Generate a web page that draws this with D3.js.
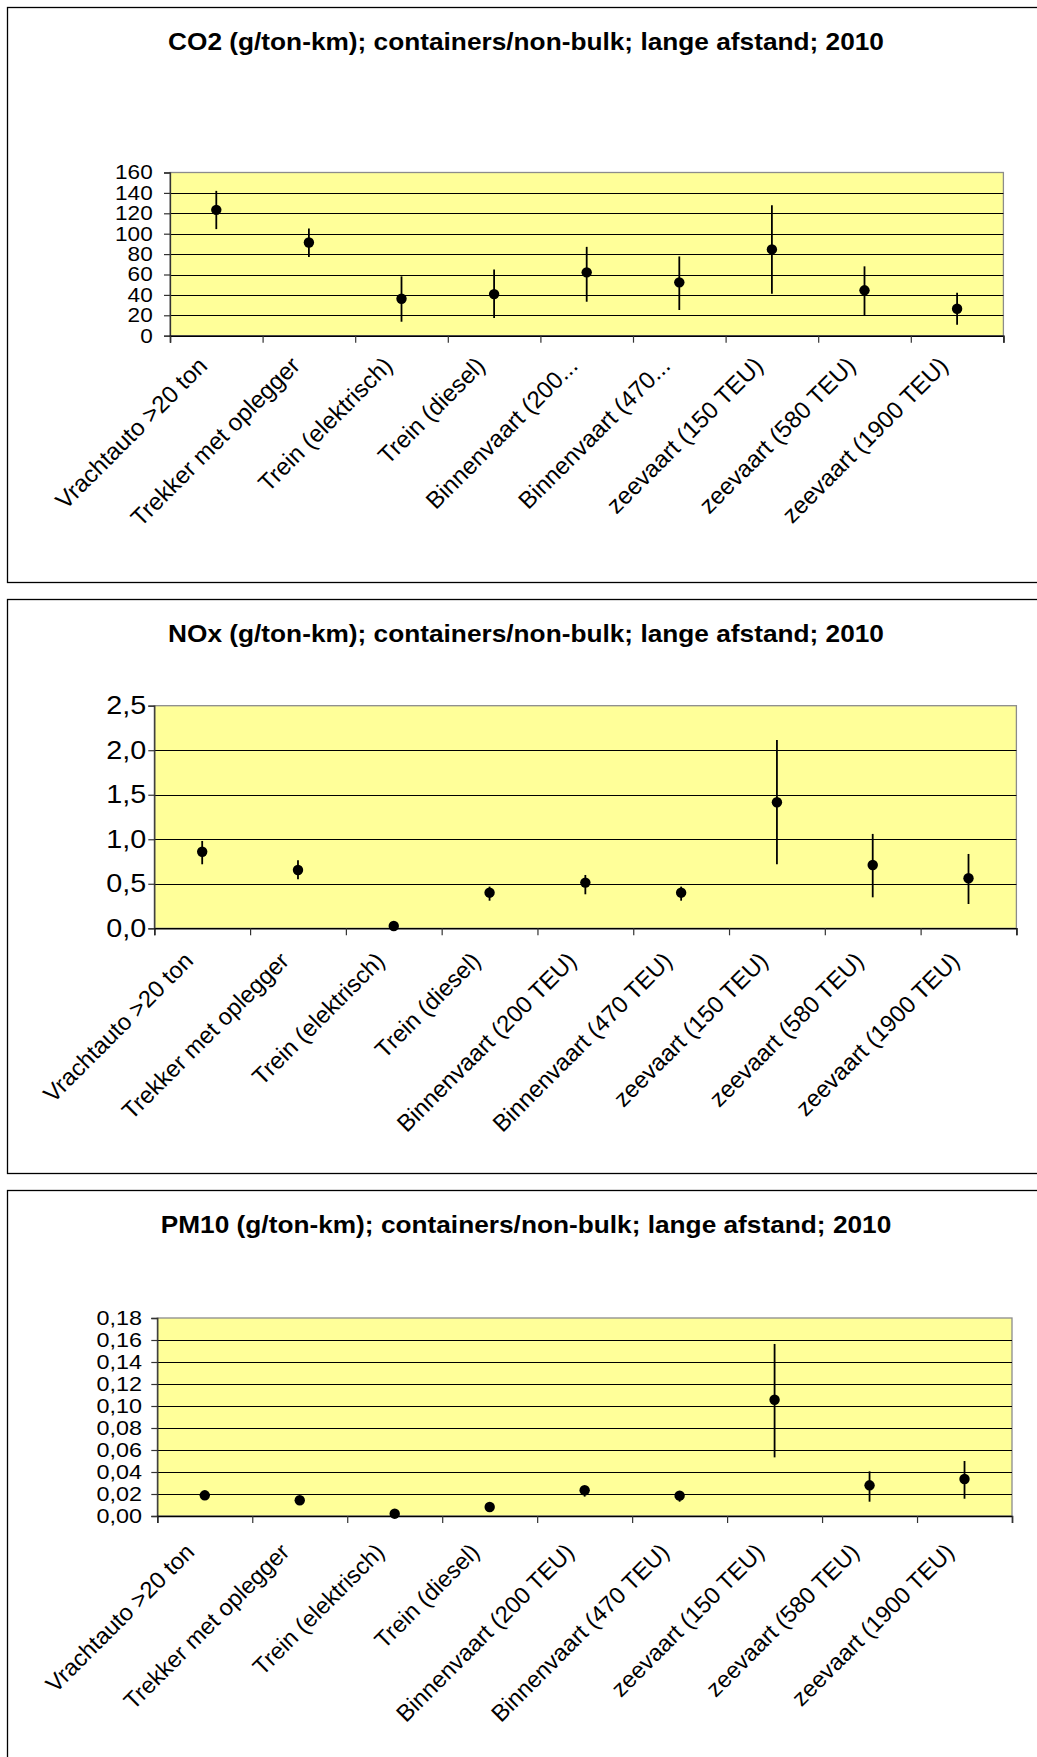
<!DOCTYPE html>
<html>
<head>
<meta charset="utf-8">
<script src="https://cdn.jsdelivr.net/npm/d3@7"></script>
<style>
  html, body { margin: 0; padding: 0; background: #ffffff; }
  svg { display: block; }
  text { font-family: "Liberation Sans", Arial, sans-serif; fill: #000; }
</style>
</head>
<body>
<div id="chart"></div>
<script>
// ---------- DATA ----------
const categoriesShort = ["Vrachtauto >20 ton", "Trekker met oplegger", "Trein (elektrisch)", "Trein (diesel)",
  "Binnenvaart (200...", "Binnenvaart (470...", "zeevaart (150 TEU)", "zeevaart (580 TEU)", "zeevaart (1900 TEU)"];
const categories = ["Vrachtauto >20 ton", "Trekker met oplegger", "Trein (elektrisch)", "Trein (diesel)",
  "Binnenvaart (200 TEU)", "Binnenvaart (470 TEU)", "zeevaart (150 TEU)", "zeevaart (580 TEU)", "zeevaart (1900 TEU)"];

const co2Values = [123.4, 91.4, 36.2, 40.8, 62.1, 52.3, 84.6, 44.5, 26.4];
const co2Low    = [104.5, 77.1, 13.7, 17.3, 33.3, 25.2, 41.1, 20.3, 10.8];
const co2High   = [142.0, 105.2, 58.2, 65.0, 87.1, 77.7, 128.0, 68.0, 42.1];
const co2Ticks  = [0, 20, 40, 60, 80, 100, 120, 140, 160];

const noxValues = [0.86, 0.655, 0.026, 0.40, 0.513, 0.40, 1.416, 0.711, 0.562];
const noxLow    = [0.719, 0.551, 0.02, 0.31, 0.382, 0.31, 0.719, 0.348, 0.273];
const noxHigh   = [0.981, 0.764, 0.032, 0.468, 0.599, 0.468, 2.116, 1.06, 0.835];
const noxTicks  = [0, 0.5, 1.0, 1.5, 2.0, 2.5];

const pm10Values = [0.0188, 0.0143, 0.0021, 0.0082, 0.0234, 0.0185, 0.1057, 0.0279, 0.0336];
const pm10Low    = [0.017, 0.013, 0.0015, 0.007, 0.0176, 0.013, 0.0533, 0.013, 0.0157];
const pm10High   = [0.021, 0.016, 0.0027, 0.0095, 0.027, 0.021, 0.1564, 0.0406, 0.050];
const pm10Ticks  = [0, 0.02, 0.04, 0.06, 0.08, 0.10, 0.12, 0.14, 0.16, 0.18];

const titles = [
  "CO2 (g/ton-km); containers/non-bulk; lange afstand; 2010",
  "NOx (g/ton-km); containers/non-bulk; lange afstand; 2010",
  "PM10 (g/ton-km); containers/non-bulk; lange afstand; 2010"
];

// ---------- RENDER ----------
const W = 1037, H = 1757;
const nl = d3.formatLocale({decimal: ",", thousands: ".", grouping: [3], currency: ["€", ""]});

const svg = d3.select("#chart").append("svg").attr("width", W).attr("height", H);

const charts = [
  {title: titles[0], cats: categoriesShort, vals: co2Values, lo: co2Low, hi: co2High, ticks: co2Ticks,
   fmt: nl.format("d"), box: [7, 7, 1038, 575], plot: [170, 1003.4, 172.5, 335.7],
   tickFont: 20, tickSx: 1.13, tickPad: 9.3, labelFont: 24, labelDx: -7.6, labelDy: 31.5},
  {title: titles[1], cats: categories, vals: noxValues, lo: noxLow, hi: noxHigh, ticks: noxTicks,
   fmt: nl.format(".1f"), box: [7, 599, 1038, 574], plot: [154.3, 1016.4, 705.7, 928.3],
   tickFont: 25, tickSx: 1.15, tickPad: 1, labelFont: 23.7, labelDx: -7.6, labelDy: 34},
  {title: titles[2], cats: categories, vals: pm10Values, lo: pm10Low, hi: pm10High, ticks: pm10Ticks,
   fmt: nl.format(".2f"), box: [7, 1190, 1038, 600], plot: [157.3, 1012, 1318, 1516],
   tickFont: 20, tickSx: 1.17, tickPad: 7, labelFont: 23.5, labelDx: -9, labelDy: 37.5}
];

charts.forEach(cfg => {
  const [bx, by, bw, bh] = cfg.box;
  const [pl, pr, pt, pb] = cfg.plot;
  const g = svg.append("g");

  g.append("rect").attr("x", bx + 0.5).attr("y", by + 0.5).attr("width", bw).attr("height", bh)
    .attr("fill", "#fff").attr("stroke", "#000").attr("stroke-width", 1.3);

  g.append("g").attr("transform", `translate(526,${by + 43}) scale(1.117,1)`)
    .append("text").attr("text-anchor", "middle")
    .attr("font-size", 23.5).attr("font-weight", "bold").text(cfg.title);

  const y = d3.scaleLinear().domain([0, d3.max(cfg.ticks)]).range([pb, pt]);
  const x = d3.scaleBand().domain(cfg.cats).range([pl, pr]).padding(0);
  const xi = d3.scaleLinear().domain([0, cfg.cats.length]).range([pl, pr]);

  // plot area
  g.append("rect").attr("x", pl).attr("y", pt).attr("width", pr - pl).attr("height", pb - pt)
    .attr("fill", "#FFFF99").attr("stroke", "#8c8c8c").attr("stroke-width", 1.3);

  // gridlines
  g.append("g").selectAll("line").data(cfg.ticks.filter(t => t > 0 && t < d3.max(cfg.ticks))).join("line")
    .attr("x1", pl).attr("x2", pr).attr("y1", d => Math.round(y(d)) + 0.5).attr("y2", d => Math.round(y(d)) + 0.5)
    .attr("stroke", "#000").attr("stroke-width", 1);

  // y axis
  const ya = g.append("g").attr("transform", `translate(${pl},0)`)
    .call(d3.axisLeft(y).tickValues(cfg.ticks).tickSize(6).tickPadding(cfg.tickPad).tickFormat(cfg.fmt));
  ya.select(".domain").attr("stroke", "#333").attr("stroke-width", 1.3);
  ya.selectAll(".tick line").attr("stroke", "#333").attr("stroke-width", 1.2);
  ya.selectAll(".tick text").attr("font-size", cfg.tickFont)
    .attr("font-family", "Liberation Sans, Arial, sans-serif").attr("fill", "#000")
    .attr("transform", `scale(${cfg.tickSx},1)`);

  // x axis with boundary ticks
  const xa = g.append("g").attr("transform", `translate(0,${pb})`)
    .call(d3.axisBottom(xi).tickValues(d3.range(cfg.cats.length + 1)).tickSize(7).tickFormat(""));
  xa.select(".domain").attr("stroke", "#000").attr("stroke-width", 1.5);
  xa.selectAll(".tick line").attr("stroke", "#333").attr("stroke-width", 1.2);

  // x labels
  g.append("g").selectAll("text").data(cfg.cats).join("text")
    .attr("transform", d => `translate(${x(d) + x.bandwidth() / 2 + cfg.labelDx},${pb + cfg.labelDy}) rotate(-45)`)
    .attr("text-anchor", "end").attr("font-size", cfg.labelFont).text(d => d);

  // error bars
  const idx = d3.range(cfg.cats.length);
  g.append("g").selectAll("line").data(idx).join("line")
    .attr("x1", i => x(cfg.cats[i]) + x.bandwidth() / 2).attr("x2", i => x(cfg.cats[i]) + x.bandwidth() / 2)
    .attr("y1", i => y(cfg.lo[i])).attr("y2", i => y(cfg.hi[i]))
    .attr("stroke", "#000").attr("stroke-width", 1.8);

  // points
  g.append("g").selectAll("circle").data(idx).join("circle")
    .attr("cx", i => x(cfg.cats[i]) + x.bandwidth() / 2).attr("cy", i => y(cfg.vals[i]))
    .attr("r", 5.2).attr("fill", "#000");
});
</script>
</body>
</html>
